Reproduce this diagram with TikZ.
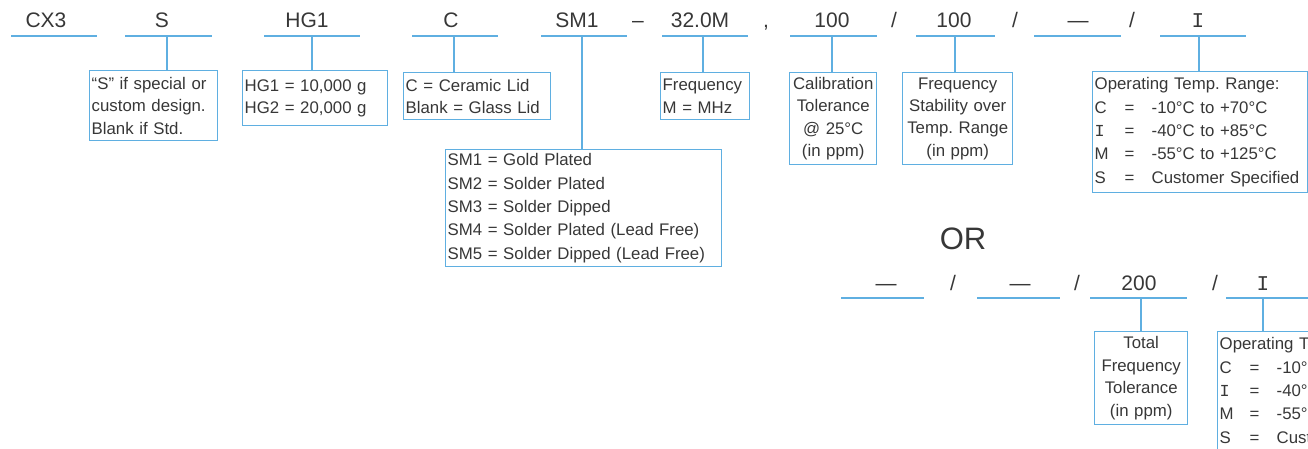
\documentclass[tikz,border=0pt]{standalone}
\usepackage{fontspec}
\setmainfont{Liberation Sans}
\newfontfamily\monofont{Liberation Mono}
\definecolor{lblue}{RGB}{95,175,225}
\definecolor{tgray}{RGB}{55,55,55}
\frenchspacing
\newcommand{\boxfont}{\fontsize{16.8}{22.4}\selectfont}
\newcommand{\boxfontb}{\fontsize{16.8}{23.4}\selectfont}
\newcommand{\codefont}{\fontsize{21}{24}\selectfont}
\newcommand{\orfont}{\fontsize{31}{36}\selectfont}
\newcommand{\Ichar}{{\monofont I}}
\newcommand{\oprow}[2]{\makebox[30pt][l]{#1}\makebox[27pt][l]{=}#2}
\begin{document}
\begin{tikzpicture}[x=1pt,y=-1pt,
  ul/.style={draw=lblue,line width=2pt},
  conn/.style={draw=lblue,line width=1.3pt},
  infobox/.style={draw=lblue,line width=1.4pt,inner xsep=2pt,inner ysep=0pt,
    anchor=north west,text=tgray,font=\boxfont,align=left},
  code/.style={anchor=base,inner sep=0pt,text=tgray,font=\codefont},
]
\useasboundingbox (0,0) rectangle (1308,449);
\clip (0,0) rectangle (1308,449);

% ---------- top row ----------
\node[code] (tCX3) at (46,28) {CX3};
\node[code] (tS) at (162,28) {S};
\node[code] (tHG) at (307,28) {HG1};
\node[code] (tC) at (451,28) {C};
\node[code] (tSM) at (577,28) {SM1};
\node[code] (tDash) at (638,28) {–};
\node[code] (tFreq) at (700,28) {32.0M};
\node[code] (tComma) at (766,28) {,};
\node[code] (tCal) at (832,28) {100};
\node[code] (tSl1) at (894,28) {/};
\node[code] (tStab) at (954,28) {100};
\node[code] (tSl2) at (1015,28) {/};
\node[code] (tTot) at (1078,28) {—};
\node[code] (tSl3) at (1132,28) {/};
\node[code] (tOp) at (1198,28) {\Ichar};

\draw[ul] (11,36) -- (97,36);
\draw[ul] (125,36) -- (212,36);
\draw[ul] (264,36) -- (360,36);
\draw[ul] (412,36) -- (498,36);
\draw[ul] (541,36) -- (627,36);
\draw[ul] (662,36) -- (748,36);
\draw[ul] (790,36) -- (877,36);
\draw[ul] (916,36) -- (995,36);
\draw[ul] (1034,36) -- (1121,36);
\draw[ul] (1160,36) -- (1246,36);

% ---------- boxes ----------
\node[infobox,text width=124pt,minimum height=70pt] (bS) at (89,70)
  {“S” if special or\\custom design.\\Blank if Std.};
\node[infobox,text width=141pt,minimum height=55pt] (bHG) at (242,70)
  {HG1 = 10,000 g\\HG2 = 20,000 g};
\node[infobox,text width=143pt,minimum height=47pt] (bC) at (403,72)
  {C = Ceramic Lid\\Blank = Glass Lid};
\node[infobox,font=\boxfontb,text width=272pt,minimum height=117pt] (bSM) at (445,149)
  {SM1 = Gold Plated\\SM2 = Solder Plated\\SM3 = Solder Dipped\\SM4 = Solder Plated (Lead Free)\\SM5 = Solder Dipped (Lead Free)};
\node[infobox,text width=85pt,minimum height=47pt] (bF) at (660,72)
  {Frequency\\M = MHz};
\node[infobox,align=center,text width=83pt,minimum height=92pt] (bCal) at (789,72)
  {Calibration\\Tolerance\\@ 25°C\\(in ppm)};
\node[infobox,align=center,text width=106pt,minimum height=92pt] (bStab) at (902,72)
  {Frequency\\Stability over\\Temp. Range\\(in ppm)};
\node[infobox,font=\boxfontb,text width=211pt,minimum height=121pt] (bOp) at (1092,71)
  {Operating Temp. Range:\\\oprow{C}{-10°C to +70°C}\\\oprow{\Ichar}{-40°C to +85°C}\\\oprow{M}{-55°C to +125°C}\\\oprow{S}{Customer Specified}};

% ---------- connectors (top) ----------
\coordinate (uS) at (167,37);
\coordinate (uHG) at (312,37);
\coordinate (uC) at (454,37);
\coordinate (uSM) at (582,37);
\coordinate (uF) at (703,37);
\coordinate (uCal) at (832,37);
\coordinate (uStab) at (955,37);
\coordinate (uOp) at (1199,37);
\draw[conn] (uS) -- (uS |- bS.north);
\draw[conn] (uHG) -- (uHG |- bHG.north);
\draw[conn] (uC) -- (uC |- bC.north);
\draw[conn] (uSM) -- (uSM |- bSM.north);
\draw[conn] (uF) -- (uF |- bF.north);
\draw[conn] (uCal) -- (uCal |- bCal.north);
\draw[conn] (uStab) -- (uStab |- bStab.north);
\draw[conn] (uOp) -- (uOp |- bOp.north);

% ---------- OR ----------
\node[anchor=base,inner sep=0pt,text=tgray,font=\orfont] (tOR) at (963,249) {OR};

% ---------- bottom row ----------
\node[code] (bT1) at (886,290) {—};
\node[code] (bSl1) at (953,290) {/};
\node[code] (bT2) at (1020,290) {—};
\node[code] (bSl2) at (1077,290) {/};
\node[code] (bT3) at (1139,290) {200};
\node[code] (bSl3) at (1215,290) {/};
\node[code] (bT4) at (1263,290) {\Ichar};

\draw[ul] (841,298) -- (924,298);
\draw[ul] (977,298) -- (1060,298);
\draw[ul] (1090,298) -- (1187,298);
\draw[ul] (1226,298) -- (1320,298);

\node[infobox,align=center,text width=89pt,minimum height=93pt] (bTot) at (1094,331)
  {Total\\Frequency\\Tolerance\\(in ppm)};
\node[infobox,font=\boxfontb,text width=211pt,minimum height=121pt] (bOp2) at (1217,331)
  {Operating Temp. Range:\\\oprow{C}{-10°C to +70°C}\\\oprow{\Ichar}{-40°C to +85°C}\\\oprow{M}{-55°C to +125°C}\\\oprow{S}{Customer Specified}};

\coordinate (uTot) at (1141,299);
\coordinate (uOp2) at (1263,299);
\draw[conn] (uTot) -- (uTot |- bTot.north);
\draw[conn] (uOp2) -- (uOp2 |- bOp2.north);
\end{tikzpicture}
\end{document}
